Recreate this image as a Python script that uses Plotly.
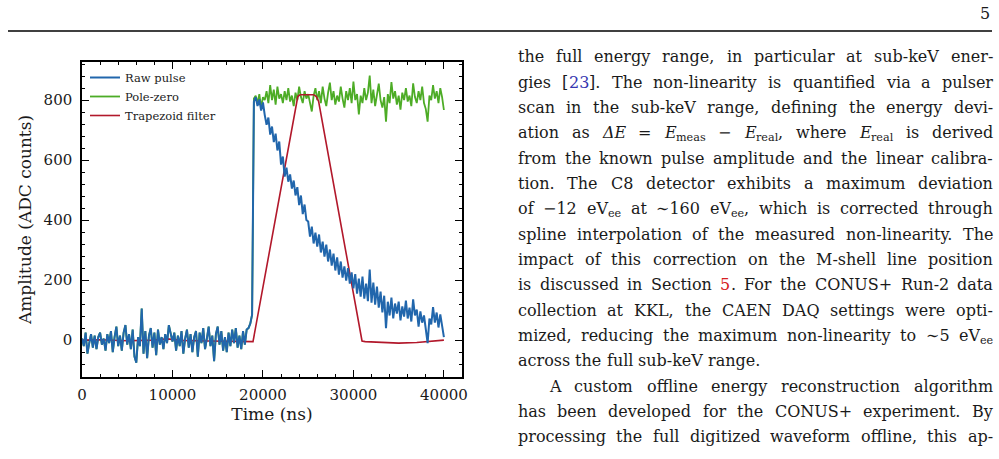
import re
import glob
import plotly.graph_objects as go

# ---------------- data ----------------
SAMPLE_NS = 200

# raw pulse: baseline 0 .. 18800 ns
RAW_BASELINE = [5, -20, 25, -45, -10, 20, -25, 15, -30, 10,
                25, -15, 5, -35, 20, -10, 30, -40, 10, 45,
                -20, 15, -35, 25, 50, -15, 20, -30, 35, -55,
                -75, 10, -20, 105, -45, 30, -60, 15, 40, -25,
                25, -50, 35, -15, 10, -30, 20, -10, 50, 20,
                -5, 25, -35, 15, -20, 30, -45, 5, 35, -25,
                20, -40, 10, 30, -55, 25, -10, 40, -30, 5,
                45, -20, 15, -70, 20, 45, -15, 30, -35, 10,
                -40, 25, -20, 35, -10, 40, -25, 15, -30, 30,
                -15, 35, 40, 55, 85]
# raw pulse: 19000 .. 40000 ns
RAW_PULSE = [795, 810, 780, 802, 765, 792, 750, 718, 742, 685,
             712, 660, 688, 632, 662, 585, 612, 545, 575, 528,
             552, 505, 532, 482, 510, 450, 482, 420, 452, 400,
             395, 345, 378, 322, 358, 312, 352, 292, 328, 278,
             318, 262, 302, 248, 288, 232, 276, 218, 262, 208,
             246, 198, 240, 188, 226, 172, 220, 155, 205, 145,
             212, 138, 188, 130, 235, 125, 192, 118, 178, 108,
             162, 92, 148, 40, 128, 82, 142, 72, 122, 88,
             128, 66, 112, 78, 132, 72, 108, 62, 136, 82,
             102, 45, 96, 58, 82, 35, -10, 72, 52, 110,
             58, 92, 42, 86, 52, 10]
# pole-zero corrected: 19000 .. 40000 ns
PZ_PLATEAU = [805, 815, 790, 820, 775, 810, 800, 830, 790, 850,
              800, 835, 785, 845, 805, 820, 790, 830, 800, 840,
              795, 815, 780, 825, 800, 845, 810, 790, 830, 805,
              820, 785, 762, 815, 840, 800, 830, 790, 845, 805,
              780, 825, 858, 800, 830, 785, 815, 795, 845, 805,
              775, 830, 800, 840, 790, 862, 800, 820, 752, 815,
              790, 840, 800, 825, 882, 790, 835, 780, 820, 855,
              800, 775, 810, 728, 820, 790, 860, 805, 830, 785,
              815, 768, 825, 800, 840, 795, 815, 780, 856, 810,
              790, 830, 800, 845, 790, 770, 728, 815, 800, 850,
              805, 830, 790, 840, 810, 767]
# trapezoid filter output (piecewise linear)
TRAP_T = [0, 2000, 5000, 8000, 9400, 10000, 11000, 14000, 17000, 18400, 18900,
          23850, 24100, 25600, 25900, 26150, 30950, 31300, 33000, 35000, 37000,
          38500, 39500, 40000]
TRAP_V = [0, 1, -2, 0, 4, 3, -1, -3, -5, -6, -5,
          812, 818, 818, 812, 796, -3, -5, -7, -10, -8,
          -5, -3, 0]

raw = RAW_BASELINE + RAW_PULSE
pz = RAW_BASELINE + PZ_PLATEAU
t_raw = [i * SAMPLE_NS for i in range(len(raw))]
t_pz = [i * SAMPLE_NS for i in range(len(pz))]

LEGEND = ["Raw pulse", "Pole-zero", "Trapezoid filter"]
COLORS = ["#2166ac", "#4dac26", "#b2182b"]

X_TICKS = [0, 10000, 20000, 30000, 40000]
Y_TICKS = [0, 200, 400, 600, 800]

W, H = 999, 459
SERIF = "DejaVu Serif"
INK = "#1a1a1a"

fig = go.Figure()
fig.add_trace(go.Scatter(x=t_raw, y=raw, mode="lines", name=LEGEND[0],
                         line=dict(color=COLORS[0], width=2), zorder=2))
fig.add_trace(go.Scatter(x=t_pz, y=pz, mode="lines", name=LEGEND[1],
                         line=dict(color=COLORS[1], width=1.8), zorder=0))
fig.add_trace(go.Scatter(x=TRAP_T, y=TRAP_V, mode="lines", name=LEGEND[2],
                         line=dict(color=COLORS[2], width=1.6), zorder=1))

# plot box in pixels
PL, PR, PT, PB = 82, 462, 62, 377

axis_common = dict(
    showline=True, linecolor="black", linewidth=1.5, mirror="allticks",
    ticks="inside", ticklen=7, tickwidth=1.2, tickcolor="black",
    showgrid=False, zeroline=False, automargin=False,
    tickfont=dict(family=SERIF, size=15, color=INK),
)
fig.update_xaxes(
    **axis_common, range=[0, 42000], domain=[PL / W, PR / W],
    tickmode="array", tickvals=X_TICKS, ticktext=[str(v) for v in X_TICKS],
    minor=dict(dtick=2000, tick0=0, ticklen=3.5, tickwidth=1, ticks="inside", tickcolor="black"),
    title=dict(text="Time (ns)", font=dict(family=SERIF, size=17, color=INK), standoff=4),
    ticklabelstandoff=3,
)
fig.update_yaxes(
    **axis_common, range=[-123, 927], domain=[1 - PB / H, 1 - PT / H],
    tickmode="array", tickvals=Y_TICKS, ticktext=[str(v) for v in Y_TICKS],
    minor=dict(dtick=40, tick0=0, ticklen=3.5, tickwidth=1, ticks="inside", tickcolor="black"),
    title=dict(text="Amplitude (ADC counts)", font=dict(family=SERIF, size=17, color=INK), standoff=8),
    ticklabelstandoff=5,
)

fig.update_layout(
    width=W, height=H, margin=dict(l=0, r=0, t=0, b=0),
    paper_bgcolor="white", plot_bgcolor="white",
    showlegend=True,
    legend=dict(x=85 / W, y=1 - 63 / H, xanchor="left", yanchor="top",
                bgcolor="rgba(0,0,0,0)", borderwidth=0,
                font=dict(family=SERIF, size=11.5, color="#222"),
                itemwidth=30, tracegroupgap=0),
)

# ---------------- page text (right column) ----------------
# markup: <i>italic</i>, <s>subscript</s>, <c>citation link</c>, <r>section link</r>
TEXT_SIZE = 16
SUB_SCALE = 0.7
COL_X0, COL_X1 = 517, 992
LINE_Y0, LINE_DY = 57, 25.33
CITE = "#3636b0"
SECREF = "#d62020"

PAGE_LINES = [
    ("the full energy range, in particular at sub-keV ener-", True, 0),
    ("gies [<c>23</c>]. The non-linearity is quantified via a pulser", True, 0),
    ("scan in the sub-keV range, defining the energy devi-", True, 0),
    ("ation as <i>ΔE</i> = <i>E</i><s>meas</s> − <i>E</i><s>real</s>, where <i>E</i><s>real</s> is derived", True, 0),
    ("from the known pulse amplitude and the linear calibra-", True, 0),
    ("tion. The C8 detector exhibits a maximum deviation", True, 0),
    ("of −12 eV<s>ee</s> at ∼160 eV<s>ee</s>, which is corrected through", True, 0),
    ("spline interpolation of the measured non-linearity. The", True, 0),
    ("impact of this correction on the M-shell line position", True, 0),
    ("is discussed in Section <r>5</r>. For the CONUS+ Run-2 data", True, 0),
    ("collection at KKL, the CAEN DAQ settings were opti-", True, 0),
    ("mized, reducing the maximum non-linearity to ∼5 eV<s>ee</s>", True, 0),
    ("across the full sub-keV range.", False, 0),
    ("A custom offline energy reconstruction algorithm", True, 31),
    ("has been developed for the CONUS+ experiment. By", True, 0),
    ("processing the full digitized waveform offline, this ap-", True, 0),
]

# text measurement (PIL if available, otherwise an approximate width table)
_fonts = {}
try:
    from PIL import ImageFont
    for key, fname in (("n", "DejaVuSerif.ttf"), ("i", "DejaVuSerif-Italic.ttf")):
        p = glob.glob("/usr/share/fonts/**/" + fname, recursive=True)
        if p:
            _fonts[key] = ImageFont.truetype(p[0], 200)
except Exception:
    _fonts = {}
if "i" not in _fonts and "n" in _fonts:
    _fonts["i"] = _fonts["n"]

_APPROX = dict(zip("abcdefghijklmnopqrstuvwxyz",
                   [.596, .640, .560, .640, .592, .370, .640, .644, .320, .310, .606, .320, .948,
                    .644, .602, .640, .640, .478, .513, .402, .644, .565, .856, .564, .565, .527]))


def em_len(t, italic=False):
    f = _fonts.get("i" if italic else "n")
    if f is not None:
        return f.getlength(t) / 200.0
    s = 0.0
    for ch in t:
        if ch in _APPROX:
            s += _APPROX[ch]
        elif ch == " ":
            s += 0.318
        elif ch.isupper():
            s += 0.72
        elif ch.isdigit():
            s += 0.636
        elif ch in ".,:;[]()-":
            s += 0.36
        else:
            s += 0.6
    return s


SEG_RE = re.compile(r"<(i|s|c|r)>(.*?)</\1>|([^<]+)")


def segments(word):
    out = []
    for m in SEG_RE.finditer(word):
        tag, inner, plain = m.group(1), m.group(2), m.group(3)
        if plain is not None:
            out.append((plain, "n"))
        else:
            out.append((inner, tag))
    return out


def seg_width(text, kind):
    if kind == "s":
        return em_len(text) * TEXT_SIZE * SUB_SCALE
    return em_len(text, italic=(kind == "i")) * TEXT_SIZE


annotations = []
space_px = em_len(" ") * TEXT_SIZE
ASC = 0.928  # DejaVu ascent (em)
for li, (line, justify, indent) in enumerate(PAGE_LINES):
    words = line.split(" ")
    segs = [segments(w) for w in words]
    widths = [sum(seg_width(t, k) for t, k in sg) for sg in segs]
    x0 = COL_X0 + indent
    if justify and len(words) > 1:
        gap = (COL_X1 - x0 - sum(widths)) / (len(words) - 1)
    else:
        gap = space_px
    baseline = LINE_Y0 + LINE_DY * li + 4.2
    x = x0
    for sg, wd in zip(segs, widths):
        sx = x
        for text, kind in sg:
            size = TEXT_SIZE
            color = INK
            style = "normal"
            top = baseline - ASC * TEXT_SIZE
            if kind == "s":
                size = TEXT_SIZE * SUB_SCALE
                top = baseline + 0.3 * size - ASC * size
            elif kind == "i":
                style = "italic"
            elif kind == "c":
                color = CITE
            elif kind == "r":
                color = SECREF
            annotations.append(dict(
                x=sx / W, y=1 - top / H, xref="paper", yref="paper",
                xanchor="left", yanchor="top", showarrow=False, borderpad=0,
                text=text, font=dict(family=SERIF, size=size, color=color, style=style),
            ))
            sx += seg_width(text, kind)
        x += wd + gap

# page number
annotations.append(dict(x=992 / W, y=1 - 13 / H, xref="paper", yref="paper",
                        xanchor="right", yanchor="middle", showarrow=False,
                        text="5", font=dict(family=SERIF, size=16, color=INK)))
fig.update_layout(annotations=annotations)

# header rule
fig.add_shape(type="line", xref="paper", yref="paper",
              x0=8 / W, x1=992 / W, y0=1 - 31 / H, y1=1 - 31 / H,
              line=dict(color="black", width=1.3))

fig.write_html("out.html")
